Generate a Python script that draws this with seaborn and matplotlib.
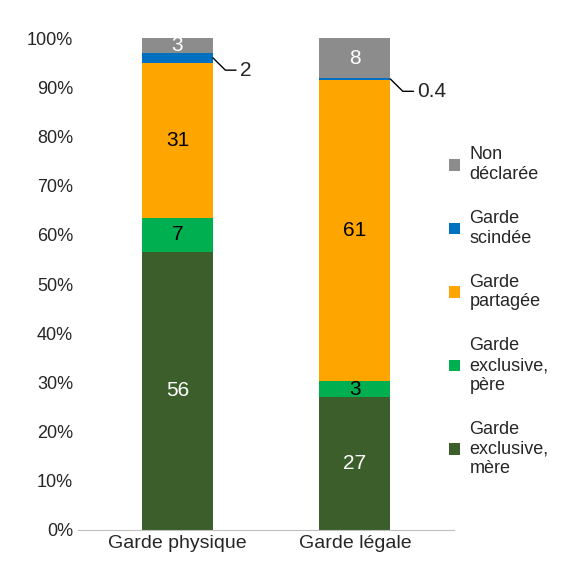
import numpy as np
import pandas as pd
import matplotlib
matplotlib.use("Agg")
import matplotlib.pyplot as plt
import seaborn as sns

categories = ["Garde physique", "Garde légale"]
legend_labels = ["Garde\nexclusive,\nmère", "Garde\nexclusive,\npère", "Garde\npartagée", "Garde\nscindée", "Non\ndéclarée"]
mere = [56.5, 27.0]
pere = [7.0, 3.2]
partagee = [31.5, 61.3]
scindee = [2.0, 0.4]
non_decl = [3.0, 8.1]
labels = [["56", "27"], ["7", "3"], ["31", "61"], ["2", "0.4"], ["3", "8"]]
colors = ["#3B5E2B", "#00B050", "#FFA500", "#0070C0", "#8C8C8C"]
text_colors = ["white", "black", "black", None, "white"]

sns.set_style("white")
plt.rcParams["font.family"] = ["Liberation Sans", "DejaVu Sans"]

fig = plt.figure(figsize=(5.7, 5.88), dpi=100)
ax = fig.add_axes([0.137, 0.099, 0.66, 0.836])

values = [mere, pere, partagee, scindee, non_decl]
bottom = np.zeros(2)
for i, vals in enumerate(values):
    df = pd.DataFrame({"cat": categories, "val": vals})
    sns.barplot(data=df, x="cat", y="val", color=colors[i], bottom=bottom,
                width=0.4, ax=ax, saturation=1, label=legend_labels[i], linewidth=0)
    for j, v in enumerate(vals):
        if text_colors[i] is not None:
            ax.text(j, bottom[j] + v / 2, labels[i][j], ha="center", va="center",
                    fontsize=15, color=text_colors[i])
    bottom = bottom + np.array(vals)

# leader labels for garde scindée
tops = np.array(mere) + np.array(pere) + np.array(partagee)
for j in range(2):
    y = tops[j] + scindee[j] / 2
    ax.plot([j + 0.2, j + 0.27, j + 0.33], [y, y - 2.5, y - 2.5], color="black", lw=1)
    ax.text(j + 0.35, y - 2.5, labels[3][j], ha="left", va="center", fontsize=15)

ax.set_xlim(-0.56, 1.56)
ax.set_ylim(0, 100)
ax.set_yticks(np.arange(0, 101, 10))
ax.set_yticklabels([f"{t}%" for t in range(0, 101, 10)], fontsize=13)
ax.tick_params(axis="x", labelsize=14, length=0)
ax.tick_params(axis="y", length=0)
ax.set_xlabel("")
ax.set_ylabel("")
for s in ["top", "right", "left"]:
    ax.spines[s].set_visible(False)
ax.spines["bottom"].set_color("#BFBFBF")

h, l = ax.get_legend_handles_labels()
if ax.get_legend() is not None:
    ax.get_legend().remove()
fig.legend(h[::-1], l[::-1], loc="center left", bbox_to_anchor=(0.76, 0.47),
           frameon=False, fontsize=13, handlelength=0.6, handleheight=0.6,
           labelspacing=1.5, handletextpad=0.5)

fig.savefig("out.png", dpi=100)
